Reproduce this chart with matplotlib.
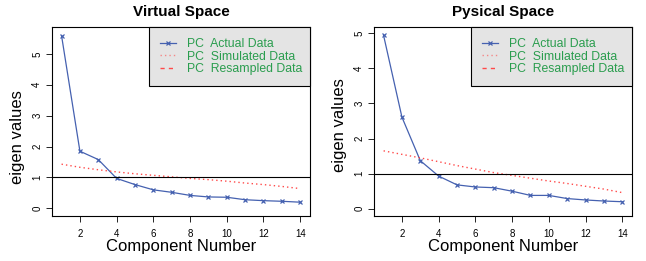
import matplotlib
matplotlib.use("Agg")
import matplotlib.pyplot as plt
from matplotlib.lines import Line2D

plt.rcParams["font.family"] = ["Liberation Sans", "DejaVu Sans"]

components = list(range(1, 15))

virtual_actual = [5.59, 1.85, 1.58, 0.97, 0.77, 0.60, 0.52, 0.42, 0.37, 0.36, 0.28, 0.25, 0.23, 0.20]
virtual_simulated = [1.43, 1.33, 1.25, 1.18, 1.12, 1.07, 1.02, 0.97, 0.93, 0.88, 0.82, 0.77, 0.71, 0.64]

physical_actual = [4.94, 2.61, 1.37, 0.93, 0.68, 0.62, 0.60, 0.50, 0.38, 0.38, 0.29, 0.25, 0.22, 0.20]
physical_simulated = [1.65, 1.55, 1.45, 1.34, 1.23, 1.13, 1.03, 0.95, 0.87, 0.79, 0.72, 0.64, 0.56, 0.46]

panels = [
    ("Virtual Space", virtual_actual, virtual_simulated, (-0.25, 5.87), 0.42),
    ("Pysical Space", physical_actual, physical_simulated, (-0.21, 5.18), 0.48),
]

BLUE = "#4561b0"
RED = "#ff4a4a"
GREEN = "#2a9d4e"

fig = plt.figure(figsize=(6.46, 2.61), dpi=100)
axes = [
    fig.add_axes([0.0805, 0.172, 0.399, 0.7246]),
    fig.add_axes([0.579, 0.172, 0.399, 0.7246]),
]

for ax, (title, actual, simulated, ylim, ylab_y) in zip(axes, panels):
    ax.plot(components, actual, color=BLUE, lw=0.9, marker="x", ms=3.5, mew=0.9)
    ax.plot(components, simulated, color=RED, lw=1.0, linestyle=(0, (1, 2.2)))
    ax.axhline(1, color="black", lw=0.8)
    ax.set_xlim(0.48, 14.52)
    ax.set_ylim(*ylim)
    ax.set_xticks(range(2, 15, 2))
    ax.set_yticks(range(0, 6))
    ax.tick_params(labelsize=7, length=4, width=0.6)
    ax.tick_params(axis="x", pad=5)
    ax.tick_params(axis="y", pad=3)
    for lbl in ax.get_yticklabels():
        lbl.set_rotation(90)
        lbl.set_va("center")
    ax.set_title(title, fontsize=11, fontweight="bold", pad=8)
    ax.set_xlabel("Component Number", fontsize=12)
    ax.set_ylabel("eigen values", fontsize=12)
    ax.xaxis.set_label_coords(0.5, -0.12)
    ax.yaxis.set_label_coords(-0.105, ylab_y)
    for s in ax.spines.values():
        s.set_linewidth(0.8)

    handles = [
        Line2D([], [], color=BLUE, lw=0.9, marker="x", ms=3, mew=0.9),
        Line2D([], [], color=RED, lw=1.0, linestyle=(0, (1, 2.2)), alpha=0.6),
        Line2D([], [], color=RED, lw=1.0, linestyle=(0, (3, 3))),
    ]
    labels = ["PC  Actual Data", "PC  Simulated Data", "PC  Resampled Data"]
    leg = ax.legend(
        handles, labels,
        bbox_to_anchor=(0.375, 0.0, 0.625, 1.0), loc="upper right", mode="expand",
        borderaxespad=0, fontsize=8.8, labelcolor=GREEN, fancybox=False,
        facecolor="#e4e4e4", edgecolor="black", framealpha=1,
        handlelength=1.3, handletextpad=0.9, labelspacing=0.05, borderpad=0.9,
    )
    leg.get_frame().set_linewidth(0.8)

fig.savefig("out.png", dpi=100)
